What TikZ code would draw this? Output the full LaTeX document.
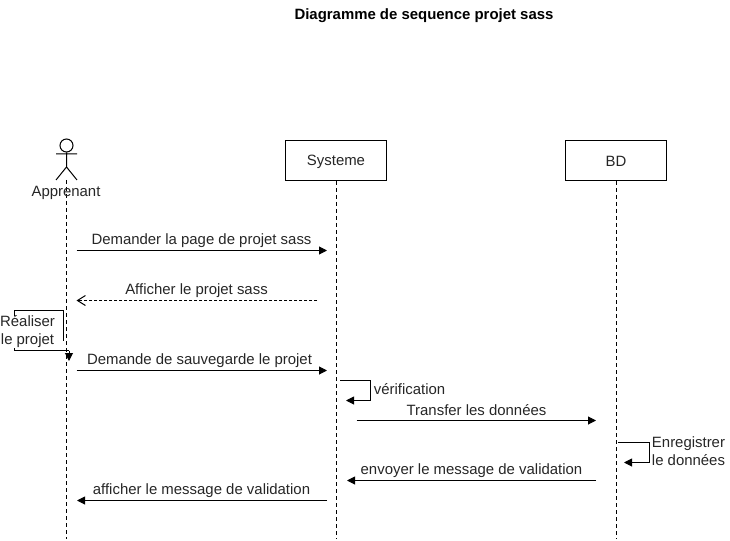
\documentclass[tikz,border=0pt]{standalone}
\usepackage{fontspec}
\setmainfont{Liberation Sans}
\usetikzlibrary{arrows.meta,positioning}
\tikzset{
    lifebox/.style={draw, line width=0.75pt, fill=white, minimum width=75.75pt, minimum height=30pt, inner sep=0pt},
    lifeline/.style={draw, dash pattern=on 3pt off 2.25pt, line width=0.75pt},
    msg/.style={draw, line width=0.75pt, -{Triangle[length=6pt,width=6pt]}},
    retmsg/.style={draw, line width=0.75pt, dash pattern=on 2.25pt off 1.5pt, -{Straight Barb[length=6pt,width=7.5pt]}},
    lbl/.style={font=\fontsize{11.2}{13.5}\selectfont, text=black!85, inner sep=1pt},
}
\begin{document}
\begin{tikzpicture}[x=0.75pt, y=-0.75pt]
    \useasboundingbox (0,0) rectangle (730,541);

    \node[font=\bfseries\fontsize{11.2}{13}\selectfont] (title) at (424,15.5) {Diagramme de sequence projet sass};

    % actor
    \node[draw, circle, line width=0.75pt, minimum size=9.75pt, inner sep=0pt] (head) at (66.5,145.5) {};
    \coordinate (hip) at (66.5,167);
    \coordinate (armL) at (56,154);
    \coordinate (armR) at (77,154);
    \coordinate (footL) at (56,180);
    \coordinate (footR) at (77,180);
    \draw[line width=0.75pt] (head.south) -- (hip) (armL) -- (armR) (footL) -- (hip) -- (footR);

    \node[lifebox] (sys) at (336,160.5) {};
    \node[lifebox] (bd) at (616,160.5) {};

    \coordinate (endA) at (66.5,538.5);
    \coordinate (endS) at (336,538.5);
    \coordinate (endB) at (616,538.5);
    \coordinate (startA) at (66.5,180);
    \draw[lifeline] (startA) -- (endA);
    \draw[lifeline] (sys.south) -- (endS);
    \draw[lifeline] (bd.south) -- (endB);

    \node[lbl] (appr) at (66,192.5) {Apprenant};
    \node[lbl] at (336,161.5) {Systeme};
    \node[lbl] at (616,161.5) {BD};

    % messages
    \coordinate (a1) at (76.5,250.5); \coordinate (s1) at (327,250.5);
    \coordinate (s2) at (317,300.5);  \coordinate (a2) at (76.5,300.5);
    \coordinate (a3) at (76.5,370.5); \coordinate (s3) at (327,370.5);
    \coordinate (s4) at (356.5,420.5); \coordinate (b4) at (596,420.5);
    \coordinate (b5) at (596,480.5);  \coordinate (s5) at (347,480.5);
    \coordinate (s6) at (327,500.5);  \coordinate (a6) at (77,500.5);

    \draw[msg] (a1) -- (s1);
    \draw[retmsg] (s2) -- (a2);
    \draw[msg] (a3) -- (s3);
    \draw[msg] (s4) -- (b4);
    \draw[msg] (b5) -- (s5);
    \draw[msg] (s6) -- (a6);

    \node[lbl] (m1) at (201.5,241) {Demander la page de projet sass};
    \node[lbl] (m2) at (196.5,291) {Afficher le projet sass};
    \node[lbl] (m3) at (199.5,361) {Demande de sauvegarde le projet};
    \node[lbl] (m4) at (476.5,410) {Transfer les données};
    \node[lbl] (m5) at (471.5,471) {envoyer le message de validation};
    \node[lbl] (m6) at (201.5,491) {afficher le message de validation};

    % self messages
    \coordinate (r1) at (14,350.5);  \coordinate (r2) at (14,310);
    \coordinate (r3) at (63.5,310);  \coordinate (r4) at (63.5,341);
    \coordinate (r5) at (69,350.5);  \coordinate (r6) at (69,361);
    \draw[line width=0.75pt] (r5) -- (r1) -- (r2) -- (r3) -- (r4);
    \draw[msg] (r5) -- (r6);
    \node[lbl, fill=white, align=center, inner sep=0pt] (real) at (27.5,332) {Réaliser\\le projet};

    \coordinate (v1) at (340,380); \coordinate (v2) at (370.5,380);
    \coordinate (v3) at (370.5,400.5); \coordinate (v4) at (346,400.5);
    \draw[msg] (v1) -- (v2) -- (v3) -- (v4);
    \node[lbl] (verif) at (409.5,389.5) {vérification};

    \coordinate (e1) at (618,442); \coordinate (e2) at (649,442);
    \coordinate (e3) at (649,462.5); \coordinate (e4) at (624,462.5);
    \draw[msg] (e1) -- (e2) -- (e3) -- (e4);
    \node[lbl, align=center, inner sep=0pt] (enreg) at (688.5,451.5) {Enregistrer\\le données};
\end{tikzpicture}
\end{document}
